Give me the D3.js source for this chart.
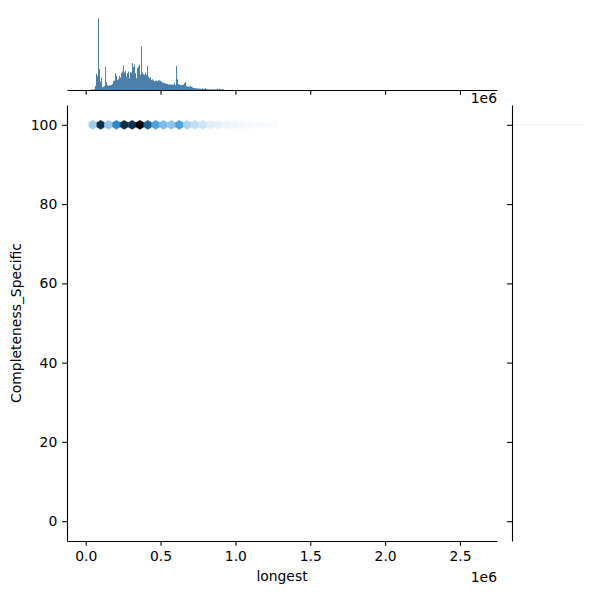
<!DOCTYPE html>
<html>
<head>
<meta charset="utf-8">
<script src="https://cdn.jsdelivr.net/npm/d3@7"></script>
<style>
  html, body { margin: 0; padding: 0; background: #fff; }
  svg { display: block; }
  text { font-family: "DejaVu Sans", sans-serif; fill: #000; }
</style>
</head>
<body>
<div id="chart"></div>
<script>
// ---------- data ----------
const xLabel = "longest";
const yLabel = "Completeness_Specific";
const xTicks = [0, 0.5e6, 1.0e6, 1.5e6, 2.0e6, 2.5e6];
const yTicks = [0, 20, 40, 60, 80, 100];

// hexbin cells (all at Completeness_Specific = 100)
const hexX = [0.047e6, 0.100e6, 0.152e6, 0.205e6, 0.257e6, 0.310e6, 0.362e6, 0.415e6,
              0.468e6, 0.520e6, 0.573e6, 0.625e6, 0.678e6, 0.730e6, 0.783e6, 0.836e6,
              0.888e6, 0.941e6, 0.993e6, 1.046e6, 1.098e6, 1.151e6, 1.204e6, 1.256e6];
const hexY = 100;
const hexCounts = [220, 830, 250, 520, 830, 820, 1000, 650, 420, 300, 260, 420,
                   200, 140, 120, 70, 60, 40, 35, 30, 25, 20, 20, 15];

// top marginal histogram of "longest"
const histBinStart = 0.0287e6;
const histBinWidth = 0.00668e6;
const histCounts = [1, 1, 2, 2, 2,
  12, 48, 42, 213, 62, 25, 37, 8, 10, 12, 69, 23, 14, 12, 14, 14, 15, 18, 27, 28,
  50, 42, 30, 32, 42, 37, 50, 55, 72, 52, 57, 40, 50, 55, 35, 53, 52, 80, 68, 75,
  50, 35, 65, 70, 75, 45, 129, 52, 47, 45, 52, 45, 72, 40, 35, 38, 30, 32, 28, 25,
  27, 28, 26, 30, 28, 27, 25, 22, 22, 20, 20, 18, 18, 16, 17, 16, 16, 16, 16, 22,
  14, 72, 32, 18, 16, 15, 15, 15, 16, 20, 24, 12, 10, 10, 10, 12, 10, 8, 6, 6,
  5, 5, 5, 4, 4, 4, 3, 5, 4, 3, 6, 3, 3, 2, 2, 2, 2, 2, 2, 2, 2, 2, 4, 2, 4, 2, 2, 3, 2];

// right marginal histogram of Completeness_Specific
const rightBins = [100];
const rightCounts = [1];

// ---------- layout ----------
const W = 600, H = 600;
const mainL = 67, mainR = 497, mainT = 105, mainB = 541;
const topMT = 14.8, topMB = 90;
const rMl = 512, rMr = 587.2;
const tickLen = 4.86, tickPad = 4.86;
const fs = 13.9;

const svg = d3.select("#chart").append("svg").attr("width", W).attr("height", H);

const x = d3.scaleLinear().domain([-0.125e6, 2.7475e6]).range([mainL, mainR]);
const y = d3.scaleLinear().domain([-5, 105]).range([mainB, mainT]);

// ---------- hexbin ----------
const cmax = d3.max(hexCounts);
const color = c => d3.hsl(204.5, 0.706, 1 - c / cmax).formatHex();
const hexW = x(hexX[1]) - x(hexX[0]);
const r = hexW / Math.sqrt(3);
const hexPath = d3.range(6).map(i => {
  const a = Math.PI / 3 * i + Math.PI / 6;
  return [r * Math.cos(a), r * Math.sin(a)];
});
svg.append("g").selectAll("path").data(hexX).join("path")
  .attr("transform", d => `translate(${x(d)},${y(hexY)})`)
  .attr("d", "M" + hexPath.join("L") + "Z")
  .attr("fill", (d, i) => color(hexCounts[i]))
  .attr("stroke", (d, i) => color(hexCounts[i]))
  .attr("stroke-width", 0.3);

// ---------- main axes ----------
const fmtX = d => (d / 1e6).toFixed(1);
const gx = svg.append("g").attr("transform", `translate(0,${mainB})`)
  .call(d3.axisBottom(x).tickValues(xTicks).tickFormat(fmtX)
    .tickSize(tickLen).tickPadding(tickPad).tickSizeOuter(0));
const gy = svg.append("g").attr("transform", `translate(${mainL},0)`)
  .call(d3.axisLeft(y).tickValues(yTicks).tickFormat(d3.format("d"))
    .tickSize(tickLen).tickPadding(tickPad).tickSizeOuter(0));
[gx, gy].forEach(g => {
  g.selectAll("text").style("font-size", fs + "px").style("font-family", "DejaVu Sans");
  g.selectAll("line, path").attr("stroke", "#000").attr("stroke-width", 1.1);
});
gx.attr("font-family", null);
gy.attr("font-family", null);

svg.append("text").attr("x", (mainL + mainR) / 2).attr("y", 581)
  .attr("text-anchor", "middle").style("font-size", fs + "px").text(xLabel);
svg.append("text").attr("transform", `translate(21,${(mainT + mainB) / 2}) rotate(-90)`)
  .attr("text-anchor", "middle").style("font-size", fs + "px").text(yLabel);
svg.append("text").attr("x", mainR).attr("y", 582)
  .attr("text-anchor", "end").style("font-size", fs + "px").text("1e6");

// ---------- top marginal ----------
const hy = d3.scaleLinear().domain([0, d3.max(histCounts) * 1.05]).range([topMB, topMT]);
svg.append("g").selectAll("rect").data(histCounts).join("rect")
  .attr("x", (d, i) => x(histBinStart + i * histBinWidth))
  .attr("width", x(histBinStart + histBinWidth) - x(histBinStart))
  .attr("y", d => hy(d))
  .attr("height", d => topMB - hy(d))
  .attr("fill", "#4a7eab");
const gtx = svg.append("g").attr("transform", `translate(0,${topMB})`)
  .call(d3.axisBottom(x).tickValues(xTicks).tickFormat("")
    .tickSize(tickLen).tickSizeOuter(0));
gtx.selectAll("line, path").attr("stroke", "#000").attr("stroke-width", 1.1);
svg.append("text").attr("x", mainR).attr("y", 103)
  .attr("text-anchor", "end").style("font-size", fs + "px").text("1e6");

// ---------- right marginal ----------
const rx = d3.scaleLinear().domain([0, d3.max(rightCounts) * 1.05]).range([rMl, rMr]);
svg.append("g").selectAll("rect").data(rightBins).join("rect")
  .attr("x", rMl)
  .attr("y", d => y(d) - 0.5)
  .attr("width", (d, i) => rx(rightCounts[i]) - rMl)
  .attr("height", 1)
  .attr("fill", "#edf1f4");
const gry = svg.append("g").attr("transform", `translate(${rMl},0)`)
  .call(d3.axisLeft(y).tickValues(yTicks).tickFormat("")
    .tickSize(tickLen).tickSizeOuter(0));
gry.selectAll("line, path").attr("stroke", "#000").attr("stroke-width", 1.1);
</script>
</body>
</html>
